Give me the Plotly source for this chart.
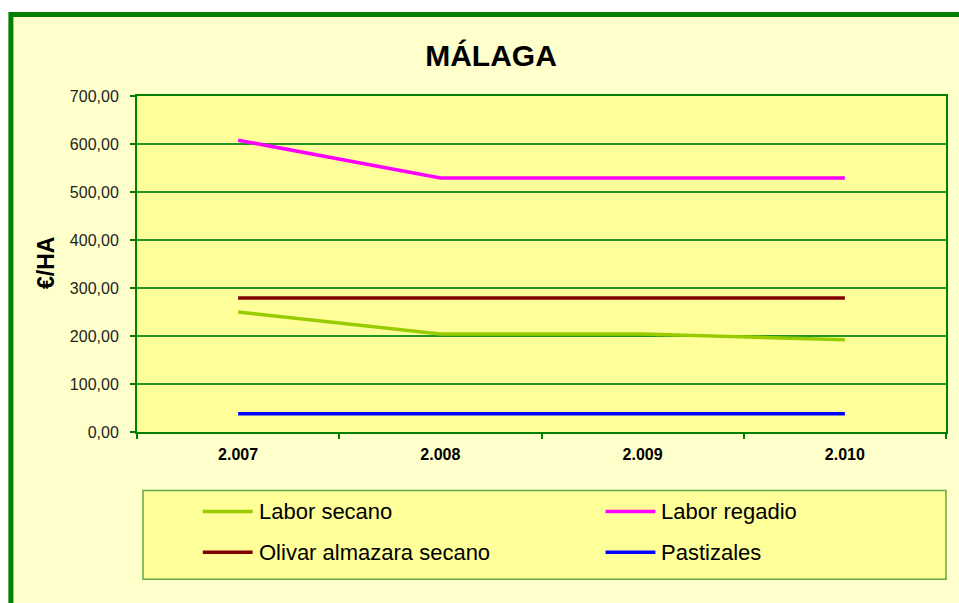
import plotly.graph_objects as go

# ---- data ----
years = ["2.007", "2.008", "2.009", "2.010"]
series_names = ["Labor secano", "Labor regadio", "Olivar almazara secano", "Pastizales"]
labor_secano = [250, 204, 204, 192]
labor_regadio = [608, 529, 529, 529]
olivar_almazara_secano = [279, 279, 279, 279]
pastizales = [38, 38, 38, 38]
series_values = [labor_secano, labor_regadio, olivar_almazara_secano, pastizales]
series_colors = ["#99CC00", "#FF00FF", "#800000", "#0000FF"]
y_ticks = [0, 100, 200, 300, 400, 500, 600, 700]

FONT = "Arial, 'Liberation Sans', sans-serif"
W, H = 959, 603
L, R, T, B = 137, 948.5, 96, 432.5
PW, PH = R - L, B - T

def px_x(x):
    return (x - L) / PW

def px_y(y):
    return (B - y) / PH

fig = go.Figure()
for name, vals, col in zip(series_names, series_values, series_colors):
    fig.add_trace(go.Scatter(x=years, y=vals, name=name, mode="lines",
                             line=dict(color=col, width=3.5), showlegend=False))

shapes = [
    # outer chart area with green border
    dict(type="rect", xref="paper", yref="paper", layer="below",
         x0=px_x(10.5), x1=px_x(985), y0=px_y(14.5), y1=px_y(630),
         fillcolor="#FFFFCC", line=dict(color="#007F00", width=5)),
    # plot area fill
    dict(type="rect", xref="paper", yref="paper", layer="below",
         x0=0, x1=1, y0=0, y1=1, fillcolor="#FFFF99", line=dict(width=0)),
    # legend box
    dict(type="rect", xref="paper", yref="paper", layer="below",
         x0=px_x(143), x1=px_x(948.5), y0=px_y(491), y1=px_y(580),
         fillcolor="#FFFF99", line=dict(color="#66AA44", width=1.5)),
]

annotations = []
legend_pos = [(203, 512), (607, 512), (203, 553), (607, 553)]
for (lx, ly), name, col in zip(legend_pos, series_names, series_colors):
    shapes.append(dict(type="line", xref="paper", yref="paper",
                       x0=px_x(lx), x1=px_x(lx + 50), y0=px_y(ly), y1=px_y(ly),
                       line=dict(color=col, width=3.5)))
    annotations.append(dict(xref="paper", yref="paper", x=px_x(lx + 54), y=px_y(ly),
                            xanchor="left", yanchor="middle", showarrow=False,
                            text=name, font=dict(family=FONT, size=22, color="#000000")))

annotations.append(dict(xref="paper", yref="paper", x=px_x(45), y=px_y(263),
                        xanchor="center", yanchor="middle", showarrow=False, textangle=-90,
                        text="<b>€/HA</b>", font=dict(family=FONT, size=23, color="#000000")))

fig.update_layout(
    width=W, height=H,
    margin=dict(l=L, r=W - R, t=T, b=H - B, pad=0),
    paper_bgcolor="#FFFFFF",
    plot_bgcolor="rgba(0,0,0,0)",
    separators=", ",
    showlegend=False,
    title=dict(text="<b>MÁLAGA</b>", x=491 / W, xanchor="center", xref="container",
               y=1 - 55 / H, yanchor="middle", yref="container",
               font=dict(family=FONT, size=30, color="#000000")),
    shapes=shapes,
    annotations=annotations,
    xaxis=dict(type="category", range=[-0.5, len(years) - 0.5], showgrid=False, showline=True,
               linecolor="#008000", linewidth=2,
               mirror=True, ticks="outside", tickson="boundaries", ticklen=5, tickcolor="#008000",
               tickwidth=1.5, tickfont=dict(family=FONT, size=16, color="#000000", weight="bold"),
               ticklabelstandoff=7, zeroline=False),
    yaxis=dict(range=[0, 700], tickvals=y_ticks, tickformat=".2f", showgrid=True,
               gridcolor="#229922", gridwidth=1.5, showline=True, linecolor="#008000", linewidth=2,
               mirror=True, ticks="outside", ticklen=5, tickcolor="#008000", tickwidth=1.5,
               tickfont=dict(family=FONT, size=16, color="#222222"), ticklabelstandoff=8,
               zeroline=False),
)

fig.write_html("out.html", config={"displayModeBar": False},
               post_script="document.body.style.margin='0';document.body.style.padding='0';")
